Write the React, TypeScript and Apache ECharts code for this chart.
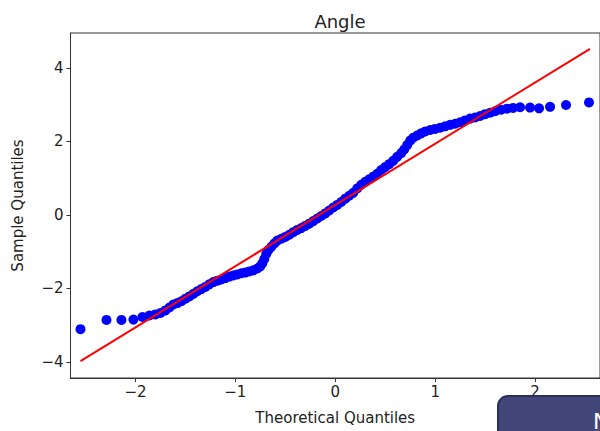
import React, { useEffect, useRef } from "react";
import * as echarts from "echarts";

const titleText = "Angle";
const xName = "Theoretical Quantiles";
const yName = "Sample Quantiles";
const xTicks = [-2, -1, 0, 1, 2];
const yTicks = [-4, -2, 0, 2, 4];

const theoretical = [
  -2.55, -2.29, -2.14, -2.02, -1.93, -1.86, -1.8, -1.75, -1.7, -1.66,
  -1.62, -1.58, -1.54, -1.5, -1.46, -1.42, -1.38, -1.34, -1.3, -1.26,
  -1.22, -1.18, -1.14, -1.1, -1.06, -1.02, -0.98, -0.94, -0.9, -0.86,
  -0.82, -0.78, -0.75, -0.73, -0.71, -0.69, -0.67, -0.64, -0.61, -0.58,
  -0.54, -0.5, -0.46, -0.42, -0.38, -0.34, -0.3, -0.26, -0.22, -0.18,
  -0.14, -0.1, -0.06, -0.02, 0.02, 0.06, 0.1, 0.14, 0.18, 0.22,
  0.26, 0.3, 0.34, 0.38, 0.42, 0.46, 0.5, 0.54, 0.58, 0.62,
  0.66, 0.69, 0.72, 0.75, 0.78, 0.82, 0.86, 0.9, 0.95, 1.0,
  1.05, 1.1, 1.15, 1.2, 1.25, 1.3, 1.35, 1.4, 1.45, 1.5,
  1.55, 1.6, 1.66, 1.72, 1.78, 1.85, 1.95, 2.04, 2.15, 2.31,
  2.54,
];

const sample = [
  -3.11, -2.86, -2.86, -2.85, -2.78, -2.74, -2.71, -2.67, -2.6, -2.52,
  -2.44, -2.4, -2.35, -2.28, -2.22, -2.15, -2.08, -2.02, -1.96, -1.89,
  -1.83, -1.79, -1.76, -1.72, -1.68, -1.65, -1.62, -1.59, -1.57, -1.54,
  -1.51, -1.46, -1.4, -1.32, -1.2, -1.06, -0.96, -0.87, -0.78, -0.7,
  -0.65, -0.6, -0.54, -0.47, -0.41, -0.36, -0.3, -0.24, -0.17, -0.1,
  -0.03, 0.04, 0.12, 0.2, 0.27, 0.35, 0.44, 0.52, 0.6, 0.72,
  0.82, 0.9, 0.97, 1.04, 1.12, 1.22, 1.3, 1.38, 1.47, 1.58,
  1.68, 1.78, 1.9, 2.02, 2.1, 2.16, 2.22, 2.27, 2.31, 2.34,
  2.37, 2.41, 2.45, 2.48, 2.52, 2.57, 2.62, 2.65, 2.69, 2.74,
  2.78, 2.82, 2.86, 2.89, 2.91, 2.93, 2.92, 2.9, 2.94, 2.99,
  3.06,
];

const fitLineX = [-2.55, 2.55];
const fitLineY = [-3.98, 4.52];

const fmt = (v: number) => (v < 0 ? "\u2212" + Math.abs(v) : String(v));

export default function App() {
  const ref = useRef<HTMLDivElement>(null);
  useEffect(() => {
    if (!ref.current) return;
    const chart = echarts.init(ref.current, null, { renderer: "svg" });
    const font = "DejaVu Sans";
    chart.setOption({
      animation: false,
      backgroundColor: "#ffffff",
      title: {
        text: titleText,
        left: 335,
        textAlign: "center",
        top: 7,
        textStyle: { fontFamily: font, fontSize: 18, fontWeight: "normal", color: "#222" },
      },
      grid: {
        left: 70.5,
        top: 33,
        width: 530,
        height: 345,
        show: true,
        borderColor: "#333",
        borderWidth: 1,
        backgroundColor: "transparent",
      },
      xAxis: {
        type: "value",
        min: -2.65,
        max: 2.65,
        name: xName,
        nameLocation: "middle",
        nameGap: 32,
        nameTextStyle: { fontFamily: font, fontSize: 15, color: "#222" },
        splitLine: { show: false },
        axisLine: { show: true, onZero: false, lineStyle: { color: "#333", width: 1 } },
        axisTick: { show: true, customValues: xTicks, length: 4, lineStyle: { color: "#333" } },
        axisLabel: {
          customValues: xTicks,
          formatter: (v: number) => fmt(v),
          fontFamily: font,
          fontSize: 15,
          color: "#222",
          margin: 6,
        },
      },
      yAxis: {
        type: "value",
        min: -4.44,
        max: 4.95,
        name: yName,
        nameLocation: "middle",
        nameGap: 45,
        nameRotate: 90,
        nameTextStyle: { fontFamily: font, fontSize: 15, color: "#222" },
        splitLine: { show: false },
        axisLine: { show: true, onZero: false, lineStyle: { color: "#333", width: 1 } },
        axisTick: { show: true, customValues: yTicks, length: 4, lineStyle: { color: "#333" } },
        axisLabel: {
          customValues: yTicks,
          formatter: (v: number) => fmt(v),
          fontFamily: font,
          fontSize: 15,
          color: "#222",
          margin: 7,
        },
      },
      series: [
        {
          type: "scatter",
          data: theoretical.map((q, i) => [q, sample[i]]),
          symbol: "circle",
          symbolSize: 10,
          itemStyle: { color: "#0000ff", opacity: 1 },
          z: 2,
        },
        {
          type: "line",
          data: fitLineX.map((q, i) => [q, fitLineY[i]]),
          symbol: "none",
          lineStyle: { color: "#ff0000", width: 2 },
          z: 3,
        },
      ],
      graphic: [
        {
          type: "rect",
          z: 100,
          shape: { x: 498, y: 396, width: 130, height: 60, r: 10 },
          style: { fill: "#434679", stroke: "#2c2e5c", lineWidth: 2 },
        },
        {
          type: "text",
          z: 101,
          x: 593,
          y: 410,
          style: { text: "N", fill: "#ffffff", fontSize: 22, fontFamily: font },
        },
      ],
    });
    return () => chart.dispose();
  }, []);
  return <div ref={ref} style={{ width: 600, height: 431, position: "absolute", left: 0, top: 0 }} />;
}
